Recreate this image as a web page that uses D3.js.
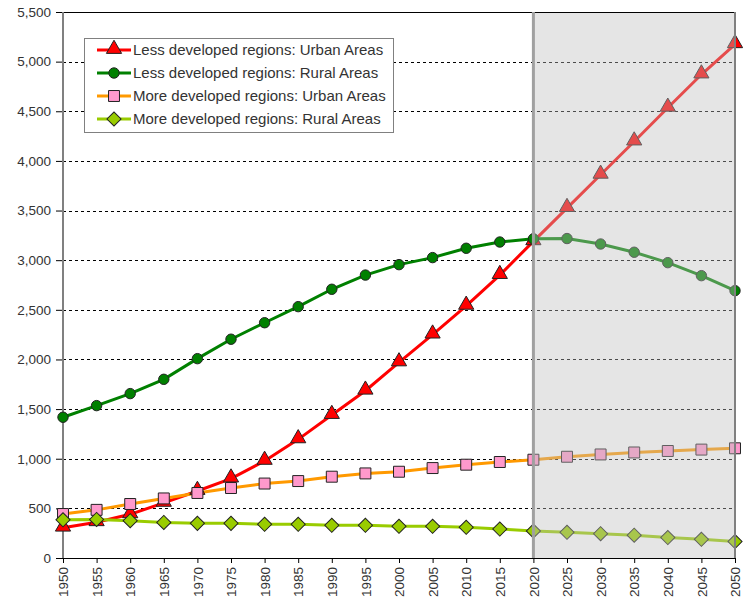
<!DOCTYPE html>
<html lang="en">
<head>
    <meta charset="UTF-8">
    <title>Urban and Rural Population</title>
    <script src="https://d3js.org/d3.v7.min.js"></script>
    <style>
        body { margin: 0; background: #fff; }
        text { font-family: "Liberation Sans", Arial, sans-serif; fill: #333; }
    </style>
</head>
<body>
<div id="chart"></div>
<script>

    // data (millions)
    var years = [1950, 1955, 1960, 1965, 1970, 1975, 1980, 1985, 1990, 1995, 2000,
        2005, 2010, 2015, 2020, 2025, 2030, 2035, 2040, 2045, 2050];
    var lessUrban = [305, 360, 440, 555, 675, 800, 978, 1195, 1440, 1685, 1970,
        2250, 2540, 2850, 3190, 3525, 3860, 4195, 4535, 4870, 5175];
    var lessRural = [1418, 1535, 1656, 1800, 2008, 2204, 2370, 2532, 2707, 2850, 2955,
        3026, 3120, 3183, 3215, 3218, 3163, 3080, 2975, 2844, 2693];
    var moreUrban = [443, 485, 544, 600, 655, 705, 750, 775, 819, 852, 869,
        906, 940, 967, 990, 1020, 1043, 1063, 1078, 1092, 1105];
    var moreRural = [385, 388, 376, 358, 349, 349, 339, 339, 329, 329, 319,
        319, 309, 292, 272, 259, 245, 230, 206, 188, 166];
    var yTicks = [0, 500, 1000, 1500, 2000, 2500, 3000, 3500, 4000, 4500, 5000, 5500];
    var projectionStart = 2020;

    var series = [
        {name: "Less developed regions: Urban Areas", values: lessUrban, color: "#ff0000", shape: "triangle", fill: "#ff0000"},
        {name: "Less developed regions: Rural Areas", values: lessRural, color: "#008000", shape: "circle", fill: "#008000"},
        {name: "More developed regions: Urban Areas", values: moreUrban, color: "#ff9900", shape: "square", fill: "#ff99cc"},
        {name: "More developed regions: Rural Areas", values: moreRural, color: "#99cc00", shape: "diamond", fill: "#99cc00"}
    ];

    var margin = {top: 12, right: 9, bottom: 42, left: 63},
        width = 744 - margin.left - margin.right,
        height = 600 - margin.top - margin.bottom;

    var svg = d3.select("#chart")
        .append("svg")
        .attr("width", 744)
        .attr("height", 600)
        .append("g")
        .attr("transform", "translate(" + margin.left + "," + margin.top + ")");

    var x = d3.scaleLinear().domain([1950, 2050]).range([0, width]);
    var y = d3.scaleLinear().domain([0, 5500]).range([height, 0]);

    // gridlines
    svg.selectAll(".grid")
        .data(yTicks.filter(function (d) { return d > 0 && d < 5500; }))
        .enter().append("line")
        .attr("x1", 0).attr("x2", width)
        .attr("y1", function (d) { return Math.round(y(d)) + 0.5; })
        .attr("y2", function (d) { return Math.round(y(d)) + 0.5; })
        .attr("stroke", "#000")
        .attr("stroke-dasharray", "3,3");

    // top border
    svg.append("line")
        .attr("x1", 0).attr("x2", width)
        .attr("y1", 0.5).attr("y2", 0.5)
        .attr("stroke", "#000");

    // Y axis
    var yAxis = svg.append("g")
        .call(d3.axisLeft(y).tickValues(yTicks).tickSize(7).tickPadding(5)
            .tickFormat(d3.format(",")));
    yAxis.select(".domain").remove();
    yAxis.selectAll("text").style("font-size", "13.5px").attr("fill", "#333");
    svg.append("line")
        .attr("x1", 0).attr("x2", 0)
        .attr("y1", 0).attr("y2", height)
        .attr("stroke", "#808080").attr("stroke-width", 2);

    // X axis
    var xAxis = svg.append("g")
        .attr("transform", "translate(0," + height + ")")
        .call(d3.axisBottom(x).tickValues(years).tickSize(5).tickSizeOuter(0)
            .tickFormat(d3.format("d")));
    xAxis.select(".domain").attr("stroke", "#000");
    xAxis.selectAll("text")
        .style("font-size", "13.5px")
        .attr("fill", "#333")
        .attr("transform", "rotate(-90)")
        .attr("text-anchor", "end")
        .attr("x", -9)
        .attr("y", 0)
        .attr("dy", "0.35em");

    // lines
    var line = d3.line()
        .x(function (d, i) { return x(years[i]); })
        .y(function (d) { return y(d); });

    series.forEach(function (s) {
        svg.append("path")
            .datum(s.values)
            .attr("fill", "none")
            .attr("stroke", s.color)
            .attr("stroke-width", 3)
            .attr("d", line);
    });

    var symbols = {
        triangle: d3.symbol().type(d3.symbolTriangle).size(100),
        circle: d3.symbol().type(d3.symbolCircle).size(85),
        square: d3.symbol().type(d3.symbolSquare).size(120),
        diamond: d3.symbol().type(d3.symbolSquare).size(100)
    };

    function marker(g, s, cx, cy) {
        g.append("path")
            .attr("d", symbols[s.shape]())
            .attr("transform", "translate(" + cx + "," + cy + ")" +
                (s.shape === "diamond" ? " rotate(45)" : "") +
                (s.shape === "triangle" ? " translate(0,-1)" : ""))
            .attr("fill", s.fill)
            .attr("stroke", "#222")
            .attr("stroke-width", 1);
    }

    series.forEach(function (s) {
        s.values.forEach(function (v, i) {
            marker(svg, s, x(years[i]), y(v));
        });
    });

    // projection shading
    svg.append("rect")
        .attr("x", x(projectionStart))
        .attr("y", 1)
        .attr("width", x(2050) - x(projectionStart))
        .attr("height", height - 1)
        .attr("fill", "#bfbfbf")
        .attr("opacity", 0.4);
    svg.append("line")
        .attr("x1", x(projectionStart)).attr("x2", x(projectionStart))
        .attr("y1", 0).attr("y2", height)
        .attr("stroke", "#a0a0a0").attr("stroke-width", 3);
    svg.append("line")
        .attr("x1", x(2050)).attr("x2", x(2050))
        .attr("y1", 0).attr("y2", height)
        .attr("stroke", "#808080").attr("stroke-width", 2);

    // legend
    var legend = svg.append("g").attr("transform", "translate(21,26)");
    legend.append("rect")
        .attr("x", 0.5).attr("y", 0.5)
        .attr("width", 309).attr("height", 94)
        .attr("fill", "#fff")
        .attr("stroke", "#808080");

    series.forEach(function (s, i) {
        var row = legend.append("g").attr("transform", "translate(0," + (12 + i * 23) + ")");
        row.append("line")
            .attr("x1", 13).attr("x2", 47)
            .attr("y1", 0).attr("y2", 0)
            .attr("stroke", s.color).attr("stroke-width", 3);
        marker(row, s, 30, 0);
        row.append("text")
            .attr("x", 49).attr("y", 0).attr("dy", "0.35em")
            .style("font-size", "15px")
            .text(s.name);
    });

</script>
</body>
</html>
